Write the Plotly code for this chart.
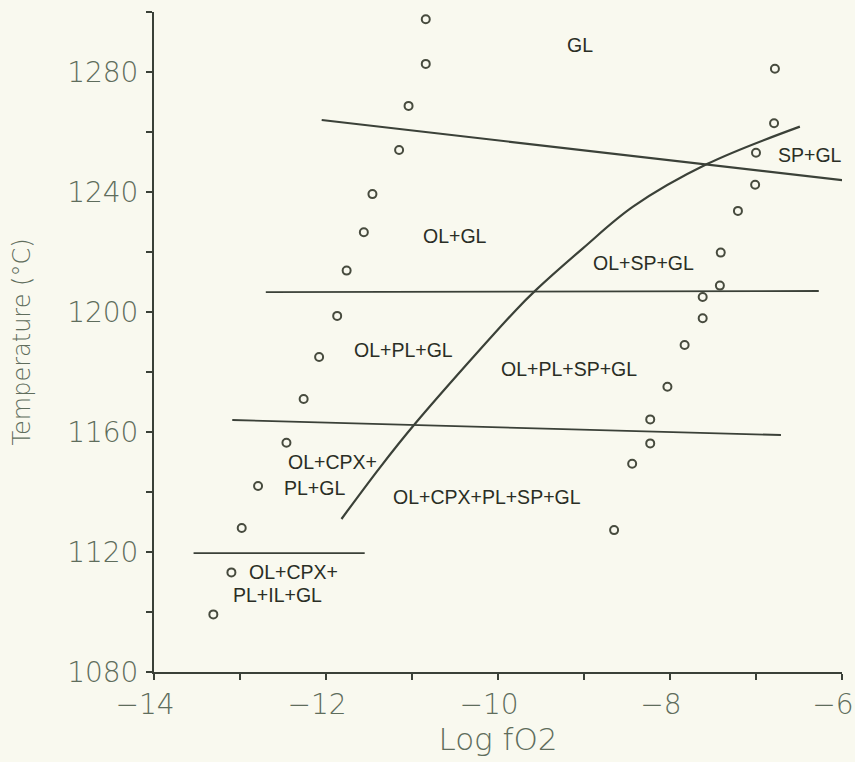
import plotly.graph_objects as go

# ---- data ----
# experimental run points (open circles), reduced side
left_logfo2 = [-10.84, -10.84, -11.04, -11.15, -11.46, -11.56, -11.76, -11.87,
               -12.08, -12.26, -12.46, -12.79, -12.98, -13.10, -13.31]
left_temp = [1297.6, 1282.7, 1268.7, 1254.0, 1239.3, 1226.6, 1213.8, 1198.7,
             1185.0, 1171.0, 1156.4, 1142.0, 1128.0, 1113.2, 1099.2]
# oxidized side
right_logfo2 = [-6.78, -6.79, -7.00, -7.01, -7.21, -7.41, -7.42, -7.62, -7.62,
                -7.83, -8.03, -8.23, -8.23, -8.44, -8.65]
right_temp = [1281.1, 1262.9, 1253.1, 1242.4, 1233.7, 1219.8, 1208.8, 1205.0,
              1197.9, 1189.0, 1175.1, 1164.2, 1156.2, 1149.4, 1127.3]

# phase boundaries
gl_x = [-12.05, -5.80]
gl_y = [1264.0, 1243.3]
pl_x = [-12.70, -6.27]
pl_y = [1206.6, 1207.0]
cpx_x = [-13.09, -6.71]
cpx_y = [1164.0, 1159.0]
il_x = [-13.54, -11.55]
il_y = [1119.6, 1119.6]
sp_x = [-11.82, -11.38, -10.96, -9.79, -9.56, -9.01, -8.43, -7.57, -6.49]
sp_y = [1131.0, 1147.9, 1162.9, 1200.7, 1207.3, 1221.3, 1235.1, 1249.3, 1261.8]

# phase-field labels
label_text = ["GL", "SP+GL", "OL+GL", "OL+SP+GL", "OL+PL+GL", "OL+PL+SP+GL",
              "OL+CPX+PL+SP+GL", "OL+CPX+", "PL+GL", "OL+CPX+", "PL+IL+GL"]
label_x = [-9.05, -6.37, -10.50, -8.31, -11.10, -9.17, -10.13, -11.93, -12.13, -12.38, -12.56]
label_y = [1289.0, 1252.3, 1225.4, 1216.2, 1187.3, 1181.0, 1138.4, 1150.1, 1141.3, 1113.4, 1105.7]

x_ticks = [-14, -13, -12, -11, -10, -9, -8, -7, -6]
x_ticktext = ["\u221214", "", "\u221212", "", "\u221210", "", "\u22128", "", "\u22126"]
y_ticks = [1080, 1100, 1120, 1140, 1160, 1180, 1200, 1220, 1240, 1260, 1280, 1300]
y_ticktext = ["1080", "", "1120", "", "1160", "", "1200", "", "1240", "", "1280", ""]

ink = "#3b4138"
label_ink = "#5f6d5c"
bg = "#f9f9ef"

fig = go.Figure()

for xs, ys, w in [(gl_x, gl_y, 2.2), (pl_x, pl_y, 1.8), (cpx_x, cpx_y, 1.8),
                  (il_x, il_y, 1.8)]:
    fig.add_trace(go.Scatter(x=xs, y=ys, mode="lines",
                             line=dict(color=ink, width=w), showlegend=False,
                             hoverinfo="skip"))
fig.add_trace(go.Scatter(x=sp_x, y=sp_y, mode="lines",
                         line=dict(color=ink, width=2.2, shape="spline", smoothing=1.0),
                         showlegend=False, hoverinfo="skip"))

for xs, ys in [(left_logfo2, left_temp), (right_logfo2, right_temp)]:
    fig.add_trace(go.Scatter(x=xs, y=ys, mode="markers",
                             marker=dict(symbol="circle-open", size=8,
                                         color="#474b3e", line=dict(width=2)),
                             showlegend=False))

for t, x, y in zip(label_text, label_x, label_y):
    fig.add_annotation(x=x, y=y, text=t, showarrow=False,
                       font=dict(family="Liberation Sans", size=19.5, color="#2a2e25"))

tickfont = dict(family="DejaVu Sans", size=28, color=label_ink, weight=200)

fig.update_layout(
    width=855, height=762,
    margin=dict(l=154, r=13, t=12, b=90, autoexpand=False),
    paper_bgcolor=bg, plot_bgcolor=bg,
    xaxis=dict(range=[-14, -6], tickmode="array", tickvals=x_ticks,
               ticktext=x_ticktext, ticks="outside", ticklen=6, tickwidth=1.5,
               tickcolor=ink, showline=True, linecolor=ink, linewidth=2,
               showgrid=False, zeroline=False, ticklabeloverflow="allow",
               automargin=False,
               tickfont=tickfont, ticklabelshift=-9, ticklabelstandoff=0,
               title=dict(text="Log fO2",
                          font=dict(family="DejaVu Sans", size=31, color=label_ink, weight=200),
                          standoff=8)),
    yaxis=dict(range=[1080, 1300], tickmode="array", tickvals=y_ticks,
               ticktext=y_ticktext, ticks="outside", ticklen=6, tickwidth=1.5,
               tickcolor=ink, showline=True, linecolor=ink, linewidth=2,
               showgrid=False, zeroline=False, tickfont=tickfont,
               ticklabelstandoff=2, automargin=False,
               title=dict(text="Temperature (\u00b0C)",
                          font=dict(family="DejaVu Sans", size=24, color=label_ink, weight=200),
                          standoff=30)),
)

fig.write_html("out.html")
